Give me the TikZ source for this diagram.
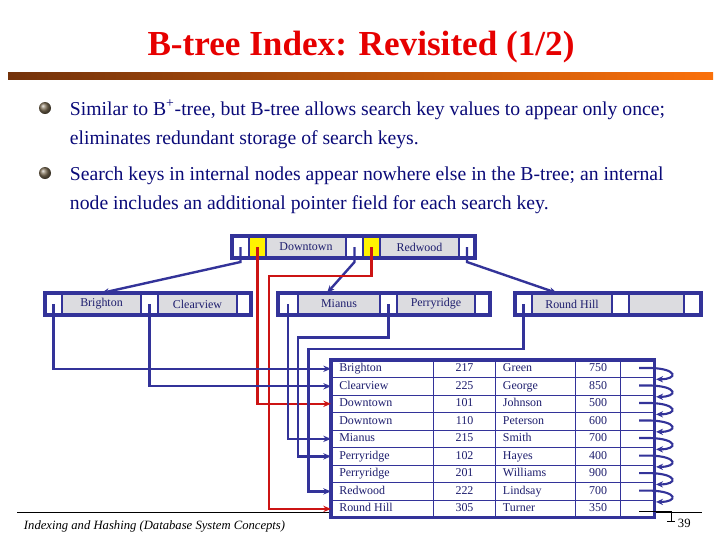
\documentclass[tikz,border=0pt]{standalone}
\usepackage{fontspec}
\setmainfont{Liberation Serif}
\usetikzlibrary{positioning,arrows.meta,shadings}

\definecolor{treeblue}{RGB}{51,51,153}
\definecolor{textblue}{RGB}{30,30,110}
\definecolor{bulletblue}{RGB}{10,10,120}
\definecolor{titlered}{RGB}{230,0,0}
\definecolor{linkred}{RGB}{204,20,20}
\definecolor{keygray}{RGB}{220,220,224}
\definecolor{barbrown}{RGB}{115,50,10}
\definecolor{barorange}{RGB}{250,112,10}
\definecolor{ballbrown}{RGB}{125,110,85}

\tikzset{
  treecell/.style={draw=treeblue, line width=0.9pt, minimum height=22*0.025cm,
    inner sep=0pt, outer sep=0pt, anchor=west,
    font=\fontsize{8.5}{10}\selectfont, text=textblue},
  ptrcell/.style={treecell, fill=white, minimum width=#1*0.025cm},
  keycell/.style={treecell, fill=keygray, minimum width=#1*0.025cm},
  hitcell/.style={treecell, fill=yellow, minimum width=#1*0.025cm},
  frame/.style={draw=treeblue, line width=2.4pt},
  ptr/.style={treeblue, line width=1.7pt, -{Stealth[length=5.5pt,width=4.5pt]}},
  redptr/.style={linkred, line width=1.7pt, -{Stealth[length=5.5pt,width=4.5pt]}},
  looparrow/.style={treeblue, line width=1.5pt, -{Stealth[length=5pt,width=4.5pt]}},
  bullettext/.style={anchor=base west, text=bulletblue, font=\fontsize{14}{16}\selectfont},
  rowtext/.style={font=\fontsize{8.5}{10}\selectfont, text=textblue, inner sep=0pt},
}

\begin{document}
\begin{tikzpicture}[x=0.025cm, y=-0.025cm]
    \useasboundingbox (0,0) rectangle (720,540);

    % ================= HEADER =================
    \node[anchor=base, text=titlered, font=\bfseries\fontsize{25}{30}\selectfont] (title)
        at (361,55) {B-tree Index: Revisited (1/2)};
    \shade[left color=barbrown, right color=barorange] (8,72) rectangle (713,79);

    % Bullets
    \shade[ball color=ballbrown] (45,108) circle (0.15cm);
    \shade[ball color=ballbrown] (45,173) circle (0.15cm);
    \node[bullettext] (s1a) at (65,115) {Similar to B\textsuperscript{+}-tree, but B-tree allows search key values to appear only once;};
    \node[bullettext] (s1b) at (65,144) {eliminates redundant storage of search keys.};
    \node[bullettext] (s2a) at (65,180) {Search keys in internal nodes appear nowhere else in the B-tree; an internal};
    \node[bullettext] (s2b) at (65,209) {node includes an additional pointer field for each search key.};

    % Footer line (runs behind the table)
    \draw[black, line width=0.6pt] (17,512) -- (702,512);
    \node[anchor=base west, font=\itshape\fontsize{9}{10}\selectfont] (foot)
        at (19,529) {Indexing and Hashing (Database System Concepts)};
    \node[anchor=base west, font=\fontsize{9}{10}\selectfont] (pageno) at (673,527) {39};

    % ================= ROOT NODE =================
    \node[ptrcell=17] (r1) at (232,247) {};
    \node[hitcell=17, right=0pt of r1] (r2) {};
    \node[keycell=80, right=0pt of r2] (r3) {Downtown};
    \node[ptrcell=17, right=0pt of r3] (r4) {};
    \node[hitcell=17, right=0pt of r4] (r5) {};
    \node[keycell=79, right=0pt of r5] (r6) {Redwood};
    \node[ptrcell=16, right=0pt of r6] (r7) {};
    \draw[frame] (r1.north west) rectangle (r7.south east);

    % ================= SECOND LEVEL =================
    \node[ptrcell=17] (b1) at (45,304) {};
    \node[keycell=79, right=0pt of b1] (b2) {Brighton};
    \node[ptrcell=17, right=0pt of b2] (b3) {};
    \node[keycell=79, right=0pt of b3] (b4) {Clearview};
    \node[ptrcell=14, right=0pt of b4] (b5) {};
    \draw[frame] (b1.north west) rectangle (b5.south east);

    \node[ptrcell=20] (m1) at (278,304) {};
    \node[keycell=82, right=0pt of m1] (m2) {Mianus};
    \node[ptrcell=17, right=0pt of m2] (m3) {};
    \node[keycell=78, right=0pt of m3] (m4) {Perryridge};
    \node[ptrcell=15, right=0pt of m4] (m5) {};
    \draw[frame] (m1.north west) rectangle (m5.south east);

    \node[ptrcell=17] (h1) at (515,304) {};
    \node[keycell=80, right=0pt of h1] (h2) {Round Hill};
    \node[ptrcell=17, right=0pt of h2] (h3) {};
    \node[keycell=55, right=0pt of h3] (h4) {};
    \node[ptrcell=17, right=0pt of h4] (h5) {};
    \draw[frame] (h1.north west) rectangle (h5.south east);

    % ================= FILE RECORDS =================
    \fill[white] (331,360) rectangle (654.3,517.7);
    \foreach \i in {1,...,8}
        \draw[treeblue, line width=0.7pt] (331,{360+\i*17.52}) -- (654.3,{360+\i*17.52});
    \foreach \x in {433.3,495.7,575.7,620.7}
        \draw[treeblue, line width=0.7pt] (\x,360) -- (\x,517.7);

    \foreach \name/\num/\cust/\bal [count=\i] in {Brighton/217/Green/750,
        Clearview/225/George/850, Downtown/101/Johnson/500, Downtown/110/Peterson/600,
        Mianus/215/Smith/700, Perryridge/102/Hayes/400, Perryridge/201/Williams/900,
        Redwood/222/Lindsay/700, Round Hill/305/Turner/350} {
        \pgfmathsetmacro\yc{360+(\i-0.5)*17.52}
        \node[rowtext, anchor=base west] (key\i) at (339,\yc+3) {\name};
        \node[rowtext, anchor=base] (acc\i) at (464.5,\yc+3) {\num};
        \node[rowtext, anchor=base west] (cus\i) at (502.7,\yc+3) {\cust};
        \node[rowtext, anchor=base] (bal\i) at (598.2,\yc+3) {\bal};
        \coordinate (in\i) at (331,\yc);
        \coordinate (nx\i) at (639,\yc-0.8);
        \coordinate (tip\i) at (656,\yc-7);
    }
    \draw[frame] (331,360) rectangle (654.3,517.7);

    % chain of next-record pointers
    \foreach \i [evaluate=\i as \j using int(\i+1)] in {1,...,8}
        \draw[looparrow] (nx\i) -- ++(12,0) .. controls ++(27,1) and ([xshift=0.55cm]tip\j) .. (tip\j);

    % null pointer of the last record
    \coordinate (nil) at (671,511);
    \draw[black, line width=0.5pt] (639,511) -- (nil) -- ++(0,10);
    \draw[black, line width=0.5pt] ([xshift=-0.1cm,yshift=-0.25cm]nil) -- ++(8,0);

    % ================= POINTERS =================
    % root to second level
    \draw[ptr] (r1.center) -- ++(0,15) -- (b2.north);
    \draw[ptr] (r4.center) -- ++(0,15) -- ([xshift=-0.3cm]m2.north);
    \draw[ptr] (r7.center) -- ++(0,15) -- ([xshift=-0.375cm]h2.north);

    % record pointers of the root keys
    \coordinate (rbend) at (268.7,275.7);
    \draw[redptr] (r2.center) |- (in3);
    \draw[redptr] (r5.center) |- (rbend) |- (in9);

    % second level to records
    \coordinate (mbend) at (297.7,337.5);
    \coordinate (hbend) at (308.5,349);
    \draw[ptr] (b1.center) |- (in1);
    \draw[ptr] (b3.center) |- (in2);
    \draw[ptr] (m1.center) |- (in5);
    \draw[ptr] (m3.center) |- (mbend) |- (in6);
    \draw[ptr] (h1.center) |- (hbend) |- (in8);

\end{tikzpicture}
\end{document}
